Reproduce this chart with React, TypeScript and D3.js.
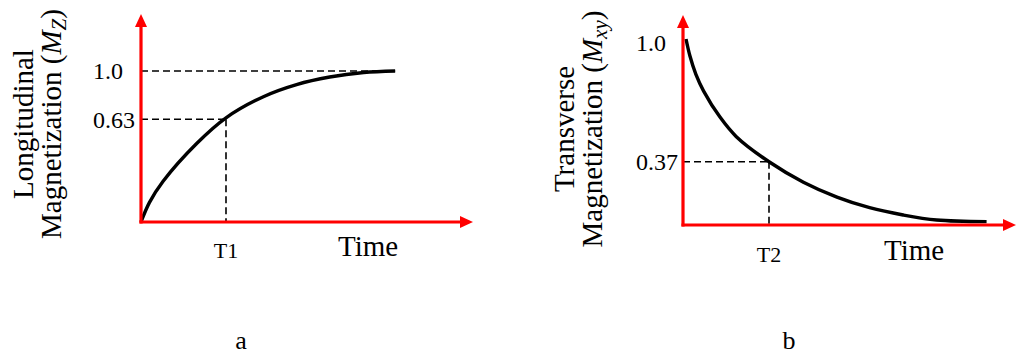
import { useEffect, useRef } from 'react';
import * as d3 from 'd3';

// T1 recovery curve (time in units of T1, value as fraction of M0)
const riseTime = [0, 0.1, 0.26, 0.655, 1.0, 1.44, 1.83, 2.22, 2.62, 2.99];
const riseValue = [0, 0.13, 0.27, 0.52, 0.69, 0.83, 0.91, 0.96, 0.99, 1.0];

// T2 decay curve (time in units of T2)
const decayTime = [0.035, 0.08, 0.15, 0.24, 0.43, 0.62, 1.0, 1.4, 1.79, 2.17, 2.56, 2.95, 3.53];
const decayValue = [1.0, 0.91, 0.81, 0.72, 0.58, 0.475, 0.34, 0.23, 0.15, 0.093, 0.054, 0.027, 0.018];

// reference levels drawn on the y axis
const riseLevelLabels = ['1.0', '0.63'];
const riseLevelValues = [1.0, 0.68];
const decayLevelLabels = ['1.0', '0.37'];
const decayLevelValues = [0.98, 0.34];

const RED = '#ff0000';
const SERIF = '"Liberation Serif", "Times New Roman", serif';

type PanelOpts = {
  times: number[];
  values: number[];
  levelLabels: string[];
  levelValues: number[];
  x0: number; // pixel of t = 0
  xUnit: number; // pixel of t = 1 (T1 / T2)
  y0: number;
  y1: number;
  xEnd: number;
  yTop: number;
  tickX: number;
  tLabel: string;
  tLabelY: number;
  timeX: number;
  timeY: number;
  titleLines: [string, string];
  sub: string;
  titleX: [number, number];
  titleY: number;
  letter: string;
  letterX: number;
  horizToEnd: boolean;
};

function drawPanel(svg: d3.Selection<SVGSVGElement, unknown, null, undefined>, o: PanelOpts) {
  const x = d3.scaleLinear().domain([0, 1]).range([o.x0, o.xUnit]);
  const y = d3.scaleLinear().domain([0, 1]).range([o.y0, o.y1]);
  const g = svg.append('g');

  // dashed guides
  o.levelValues.forEach((v, i) => {
    const isUnit = o.levelLabels[i] === '1.0';
    if (isUnit && !o.horizToEnd) return;
    const xr = isUnit ? x(d3.max(o.times)!) : x(1);
    g.append('line')
      .attr('x1', o.x0).attr('x2', xr)
      .attr('y1', y(v)).attr('y2', y(v))
      .attr('stroke', '#000').attr('stroke-width', 1.6).attr('stroke-dasharray', '7,4');
    if (!isUnit) {
      g.append('line')
        .attr('x1', x(1)).attr('x2', x(1))
        .attr('y1', y(v)).attr('y2', o.y0)
        .attr('stroke', '#000').attr('stroke-width', 1.6).attr('stroke-dasharray', '7,4');
    }
  });

  // curve
  const pts = o.times.map((t, i) => [t, o.values[i]] as [number, number]);
  const line = d3.line<[number, number]>()
    .x((d) => x(d[0]))
    .y((d) => y(d[1]))
    .curve(d3.curveCatmullRom.alpha(0.5));
  g.append('path')
    .attr('d', line(pts))
    .attr('fill', 'none')
    .attr('stroke', '#000')
    .attr('stroke-width', 3.4);

  // red axes with arrows
  g.append('line')
    .attr('x1', o.x0).attr('x2', o.x0)
    .attr('y1', o.y0 + 1.5).attr('y2', o.yTop + 10)
    .attr('stroke', RED).attr('stroke-width', 3.2);
  g.append('line')
    .attr('x1', o.x0 - 1.5).attr('x2', o.xEnd - 10)
    .attr('y1', o.y0).attr('y2', o.y0)
    .attr('stroke', RED).attr('stroke-width', 3.2);
  g.append('path')
    .attr('d', `M${o.x0},${o.yTop} L${o.x0 - 6},${o.yTop + 13} L${o.x0 + 6},${o.yTop + 13} Z`)
    .attr('fill', RED);
  g.append('path')
    .attr('d', `M${o.xEnd},${o.y0} L${o.xEnd - 13},${o.y0 - 6} L${o.xEnd - 13},${o.y0 + 6} Z`)
    .attr('fill', RED);

  // level labels
  o.levelValues.forEach((v, i) => {
    g.append('text')
      .attr('x', o.tickX)
      .attr('y', y(v))
      .attr('dy', '0.35em')
      .attr('font-family', SERIF)
      .attr('font-size', 24)
      .text(o.levelLabels[i]);
  });

  g.append('text')
    .attr('x', x(1)).attr('y', o.tLabelY)
    .attr('text-anchor', 'middle')
    .attr('font-family', SERIF).attr('font-size', 22)
    .text(o.tLabel);
  g.append('text')
    .attr('x', o.timeX).attr('y', o.timeY)
    .attr('font-family', SERIF).attr('font-size', 29)
    .text('Time');

  // rotated axis title
  g.append('text')
    .attr('transform', `translate(${o.titleX[0]},${o.titleY}) rotate(-90)`)
    .attr('text-anchor', 'middle')
    .attr('font-family', SERIF).attr('font-size', 29)
    .text(o.titleLines[0]);
  const t2 = g.append('text')
    .attr('transform', `translate(${o.titleX[1]},${o.titleY}) rotate(-90)`)
    .attr('text-anchor', 'middle')
    .attr('font-family', SERIF).attr('font-size', 29);
  t2.append('tspan').text(o.titleLines[1] + ' (');
  t2.append('tspan').attr('font-style', 'italic').text('M');
  t2.append('tspan').attr('font-style', 'italic').attr('font-size', 21).attr('dy', 5).text(o.sub);
  t2.append('tspan').attr('dy', -5).text(')');

  g.append('text')
    .attr('x', o.letterX).attr('y', 349)
    .attr('text-anchor', 'middle')
    .attr('font-family', SERIF).attr('font-size', 26)
    .text(o.letter);
}

export default function App() {
  const ref = useRef<SVGSVGElement>(null);

  useEffect(() => {
    const svg = d3.select(ref.current!);
    svg.selectAll('*').remove();
    svg.append('rect').attr('width', 1016).attr('height', 356).attr('fill', '#fff');

    drawPanel(svg, {
      times: riseTime,
      values: riseValue,
      levelLabels: riseLevelLabels,
      levelValues: riseLevelValues,
      x0: 141, xUnit: 226, y0: 222, y1: 71,
      xEnd: 473, yTop: 14,
      tickX: 93,
      tLabel: 'T1', tLabelY: 258,
      timeX: 338, timeY: 256,
      titleLines: ['Longitudinal', 'Magnetization'],
      sub: 'Z',
      titleX: [33, 61], titleY: 124,
      letter: 'a', letterX: 241,
      horizToEnd: true,
    });

    drawPanel(svg, {
      times: decayTime,
      values: decayValue,
      levelLabels: decayLevelLabels,
      levelValues: decayLevelValues,
      x0: 683, xUnit: 769, y0: 225, y1: 39,
      xEnd: 1016, yTop: 15,
      tickX: 636,
      tLabel: 'T2', tLabelY: 262,
      timeX: 884, timeY: 260,
      titleLines: ['Transverse', 'Magnetization'],
      sub: 'xy',
      titleX: [574, 602], titleY: 129,
      letter: 'b', letterX: 789,
      horizToEnd: false,
    });
  }, []);

  return (
    <svg
      ref={ref}
      width={1016}
      height={356}
      style={{ position: 'absolute', left: 0, top: 0 }}
    />
  );
}
